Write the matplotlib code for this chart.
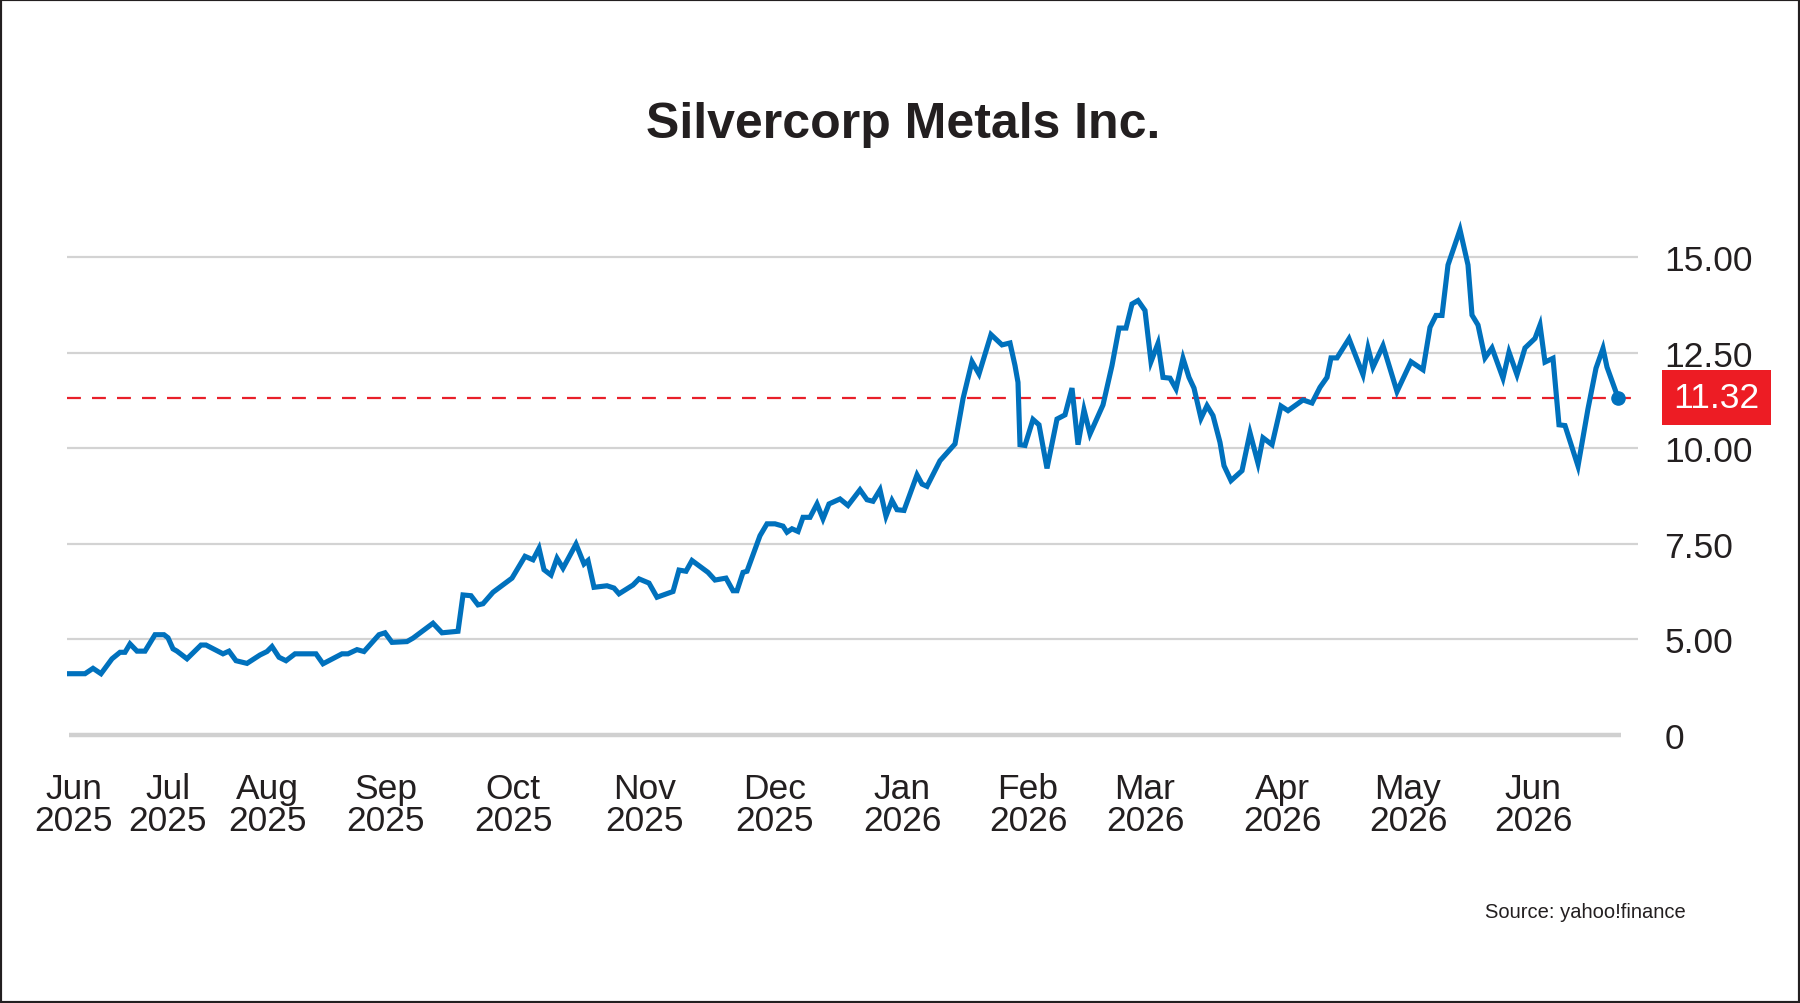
import matplotlib
matplotlib.use("Agg")
import matplotlib.pyplot as plt
from matplotlib.patches import Rectangle

# ---------------- data ----------------
title = "Silvercorp Metals Inc."
source = "Source: yahoo!finance"

session = [0, 16, 24, 32, 43, 51, 56, 61, 68, 76, 86, 95, 99, 104, 108, 118, 132, 137,
           154, 160, 167, 178, 191, 198, 203, 210, 217, 226, 247, 254, 273, 279, 288, 295,
           310, 316, 323, 338, 344, 364, 373, 389, 394, 402, 409, 414, 424, 443, 456, 464,
           470, 475, 482, 488, 494, 507, 515, 519, 525, 538, 545, 550, 564, 570, 580, 588,
           604, 610, 617, 623, 639, 646, 657, 664, 668, 674, 678, 691, 698, 706, 714, 718,
           723, 729, 734, 741, 748, 754, 760, 771, 779, 791, 798, 804, 811, 817, 823, 828,
           835, 848, 853, 858, 871, 886, 894, 903, 910, 922, 933, 941, 946, 949, 951, 956,
           964, 970, 978, 988, 996, 1003, 1009, 1015, 1021, 1034, 1043, 1050, 1057, 1063,
           1069, 1076, 1082, 1089, 1094, 1101, 1107, 1114, 1120, 1125, 1132, 1138, 1144,
           1151, 1155, 1162, 1173, 1181, 1189, 1194, 1203, 1212, 1219, 1234, 1243, 1251,
           1258, 1262, 1268, 1280, 1294, 1299, 1304, 1314, 1328, 1342, 1354, 1361, 1367,
           1373, 1379, 1391, 1399, 1403, 1409, 1416, 1423, 1434, 1440, 1448, 1456, 1466,
           1471, 1476, 1484, 1490, 1496, 1509, 1519, 1527, 1534, 1538, 1549]

price = [4.10, 4.10, 4.24, 4.10, 4.49, 4.66, 4.66, 4.88, 4.69, 4.69, 5.12, 5.12, 5.04, 4.75,
         4.69, 4.49, 4.85, 4.85, 4.62, 4.69, 4.44, 4.37, 4.59, 4.68, 4.81, 4.53, 4.44, 4.62,
         4.62, 4.36, 4.62, 4.62, 4.73, 4.68, 5.12, 5.17, 4.92, 4.94, 5.03, 5.42, 5.17, 5.21,
         6.16, 6.14, 5.90, 5.93, 6.23, 6.60, 7.17, 7.08, 7.38, 6.82, 6.68, 7.12, 6.86, 7.49,
         6.97, 7.06, 6.36, 6.40, 6.34, 6.19, 6.42, 6.58, 6.47, 6.10, 6.25, 6.81, 6.78, 7.06,
         6.75, 6.55, 6.60, 6.27, 6.27, 6.75, 6.78, 7.71, 8.02, 8.02, 7.96, 7.80, 7.89, 7.82,
         8.19, 8.19, 8.54, 8.15, 8.54, 8.67, 8.50, 8.91, 8.65, 8.61, 8.91, 8.22, 8.63, 8.39,
         8.37, 9.30, 9.06, 9.00, 9.67, 10.11, 11.29, 12.26, 11.94, 12.97, 12.70, 12.75, 12.16,
         11.72, 10.09, 10.07, 10.75, 10.61, 9.47, 10.76, 10.87, 11.57, 10.09, 11.00, 10.37,
         11.13, 12.16, 13.14, 13.14, 13.77, 13.86, 13.60, 12.26, 12.74, 11.85, 11.83, 11.55,
         12.35, 11.85, 11.57, 10.78, 11.11, 10.85, 10.15, 9.54, 9.15, 9.41, 10.40, 9.61,
         10.27, 10.09, 11.10, 10.98, 11.26, 11.18, 11.59, 11.85, 12.36, 12.36, 12.86, 11.92,
         12.62, 12.12, 12.68, 11.48, 12.26, 12.05, 13.16, 13.47, 13.47, 14.79, 15.71, 14.79,
         13.48, 13.22, 12.36, 12.62, 11.83, 12.51, 11.92, 12.62, 12.87, 13.22, 12.25, 12.35,
         10.61, 10.59, 9.53, 11.03, 12.09, 12.61, 12.12, 11.32]

last_price = 11.32
last_label = "11.32"

month_pos = [5, 99, 198, 317, 444, 576, 706, 833, 959, 1076, 1213, 1339, 1464]
month_labels = ["Jun\n2025", "Jul\n2025", "Aug\n2025", "Sep\n2025", "Oct\n2025",
                "Nov\n2025", "Dec\n2025", "Jan\n2026", "Feb\n2026", "Mar\n2026",
                "Apr\n2026", "May\n2026", "Jun\n2026"]

y_ticks = [2.5, 5.0, 7.5, 10.0, 12.5, 15.0]
y_tick_labels = ["0", "5.00", "7.50", "10.00", "12.50", "15.00"]
baseline_value = 2.5
baseline_end = 1552

# ---------------- style ----------------
plt.rcParams['font.family'] = ['Liberation Sans', 'DejaVu Sans']
plt.rcParams['lines.scale_dashes'] = False

W, H = 1800, 1004
fig = plt.figure(figsize=(W / 100, H / 100), dpi=100)
fig.patch.set_facecolor('white')

ax_left, ax_right = 67, 1638
ax_top, ax_bottom = 200.6, 755
ax = fig.add_axes([ax_left / W, 1 - ax_bottom / H, (ax_right - ax_left) / W,
                   (ax_bottom - ax_top) / H])
ax.set_xlim(-2, 1569)
ax.set_ylim(2.0, 16.5)

for s in ax.spines.values():
    s.set_visible(False)

# grid lines
for v in y_ticks[1:]:
    ax.axhline(v, color='#d3d3d3', lw=1.6, zorder=1)
ax.hlines(baseline_value, 0, baseline_end, color='#d0d0d0', lw=3.2, zorder=1)

# last price reference line
ax.axhline(last_price, color='#e8202a', lw=1.6, dashes=(10, 8), zorder=2)

# price line
ax.plot(session, price, color='#0071bd', lw=3.7, solid_joinstyle='miter', zorder=3)
ax.plot(session[-1], price[-1], 'o', color='#0071bd', markersize=9.5, zorder=4)

# ticks
ax.yaxis.tick_right()
ax.set_yticks(y_ticks)
ax.set_yticklabels(y_tick_labels, fontsize=25.5, color='#231f20', ha='left')
ax.tick_params(axis='y', length=0, pad=19)
ax.set_xticks(month_pos)
ax.set_xticklabels(month_labels, fontsize=25.5, color='#231f20', linespacing=0.95)
ax.tick_params(axis='x', length=0, pad=13)

# last price label
ax.annotate(last_label, xy=(1, last_price), xycoords=('axes fraction', 'data'),
            xytext=(25.5, 0), textcoords='offset points', ha='left', va='center',
            fontsize=25.5, color='white',
            bbox=dict(boxstyle='square,pad=0.31', fc='#ed1c24', ec='none'))

# title and source
fig.text(903 / W, 1 - 138 / H, title, ha='center', va='baseline', fontsize=36,
         fontweight='bold', color='#231f20')
fig.text(1686 / W, 1 - 918 / H, source, ha='right', va='baseline', fontsize=14.5,
         color='#231f20')

# frame
fig.add_artist(Rectangle((0, 0), 1, 1, transform=fig.transFigure, fill=False,
                         ec='#231f20', lw=3))

fig.savefig('out.png', dpi=100, facecolor='white')
